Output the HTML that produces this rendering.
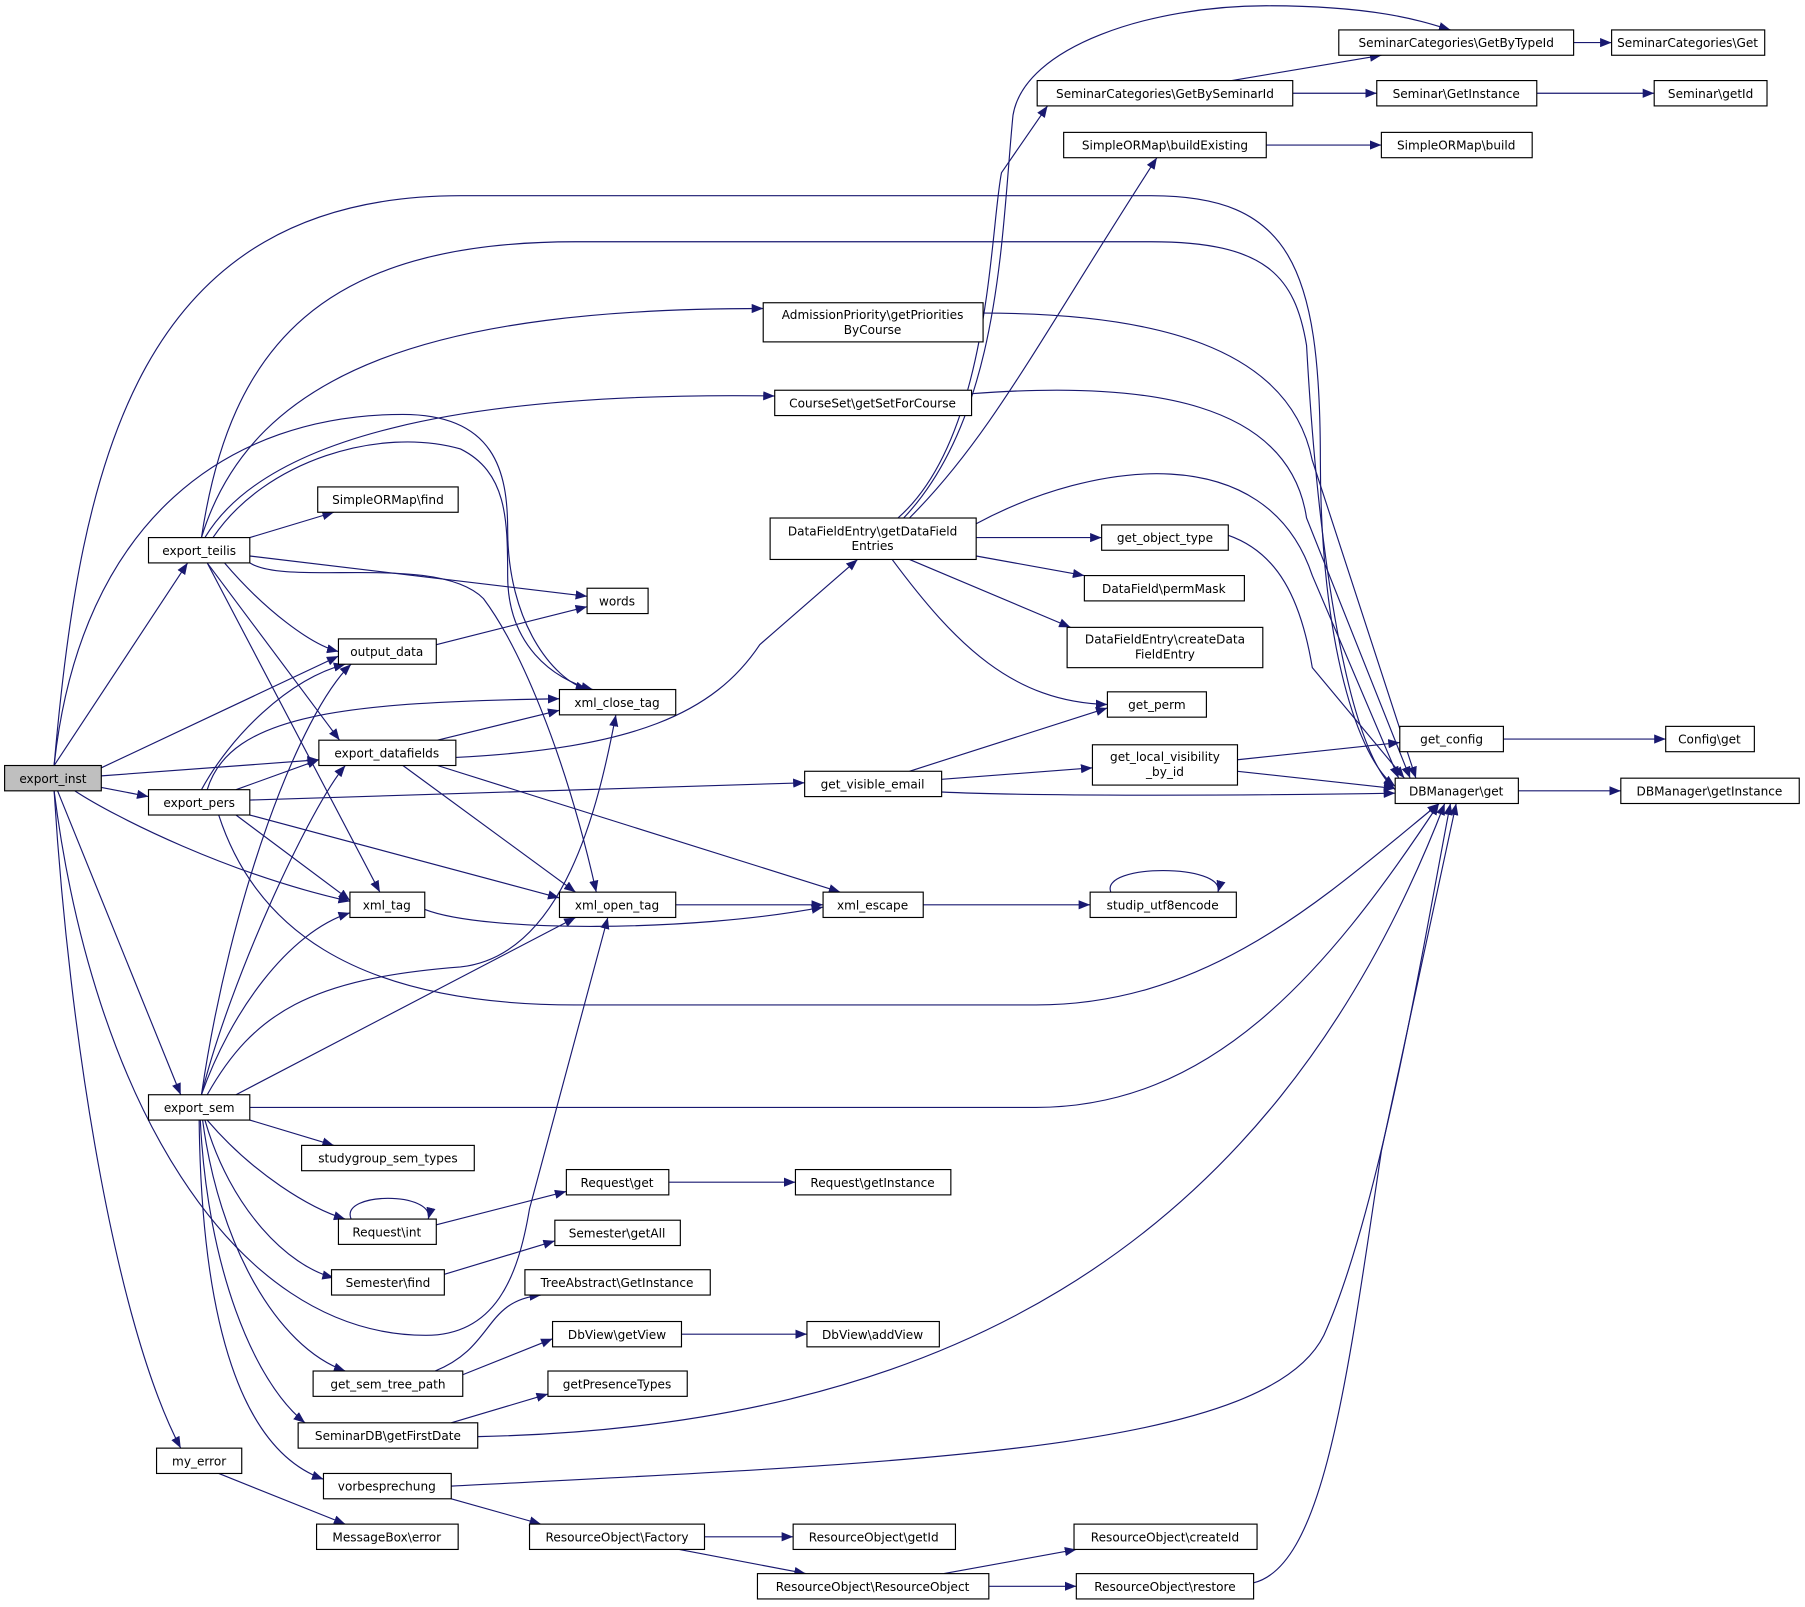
<!DOCTYPE html>
<html><head><meta charset="utf-8"><style>html,body{margin:0;padding:0;background:#fff}svg{display:block}</style></head>
<body>
<svg xmlns="http://www.w3.org/2000/svg" width="1805" height="1607" viewBox="0 0 1568 1396" preserveAspectRatio="none" font-family="DejaVu Sans, Liberation Sans, sans-serif" font-size="10.5">
<defs><marker id="a" markerUnits="userSpaceOnUse" markerWidth="11" markerHeight="8" refX="10" refY="4" orient="auto"><path d="M0,0 L10,4 L0,8 z" fill="#191970"/></marker></defs>
<g fill="none" stroke="#191970" stroke-width="1" marker-end="url(#a)">
<path d="M47,665 L163,489"/>
<path d="M88,667 L294,570"/>
<path d="M88,674 L277,660"/>
<path d="M88,684 L129,692"/>
<path d="M65,687 C100,710 200,760 304,783"/>
<path d="M50,687 L157,951"/>
<path d="M47,687 C60,900 100,1150 157,1258"/>
<path d="M47,665 C70,400 120,170 400,170 L1000,170 C1120,170 1147,230 1147,400 C1147,560 1180,660 1212,683"/>
<path d="M47,665 C70,450 200,360 350,360 C430,360 441,410 441,460 C441,540 480,590 510,599"/>
<path d="M47,687 C80,950 200,1160 370,1160 C430,1160 450,1110 460,1050 L528,797"/>
<path d="M175,467 C200,300 280,210 500,210 L1000,210 C1100,210 1125,240 1135,300 C1145,480 1170,650 1212,686"/>
<path d="M175,467 C220,320 380,268 663,268"/>
<path d="M178,467 C230,380 400,340 673,344"/>
<path d="M185,467 C230,400 330,370 400,390 C440,410 441,450 441,500 C441,560 480,590 515,599"/>
<path d="M217,467 L290,445"/>
<path d="M217,483 L510,518"/>
<path d="M195,489 C230,530 270,560 294,566"/>
<path d="M180,489 L295,643"/>
<path d="M180,489 L330,775"/>
<path d="M217,489 C250,510 380,480 420,520 C450,560 490,650 518,775"/>
<path d="M175,686 C200,640 250,590 300,577"/>
<path d="M180,686 C200,620 300,610 486,607"/>
<path d="M205,686 L277,660"/>
<path d="M217,695 L699,680"/>
<path d="M217,708 L486,780"/>
<path d="M205,708 L304,782"/>
<path d="M190,708 C220,800 300,873 500,873 L900,873 C1050,873 1150,780 1250,698"/>
<path d="M175,951 C200,780 260,620 305,577"/>
<path d="M175,951 C200,850 270,700 300,665"/>
<path d="M175,951 C200,880 250,810 304,793"/>
<path d="M180,951 C220,880 270,850 400,840 C490,830 520,700 535,621"/>
<path d="M205,951 L500,797"/>
<path d="M217,962 L900,962 C1050,962 1150,850 1250,698"/>
<path d="M217,973 L290,995"/>
<path d="M180,973 C220,1020 270,1050 300,1059"/>
<path d="M178,973 C200,1050 250,1100 290,1110"/>
<path d="M176,973 C190,1080 240,1170 300,1191"/>
<path d="M174,973 C180,1100 220,1200 265,1236"/>
<path d="M173,973 C175,1150 210,1260 281,1285"/>
<path d="M190,1280 L300,1324"/>
<path d="M380,643 L486,617"/>
<path d="M396,658 C550,650 620,620 660,560 L745,486"/>
<path d="M350,665 L500,775"/>
<path d="M380,665 L730,775"/>
<path d="M379,560 L510,527"/>
<path d="M369,790 C420,810 600,810 715,788"/>
<path d="M587,786 L715,786"/>
<path d="M802,786 L947,786"/>
<path d="M965,775 C955,750 1065,750 1058,775"/>
<path d="M790,670 L962,615"/>
<path d="M818,677 L949,667"/>
<path d="M818,688 C900,692 1100,691 1212,689"/>
<path d="M305,1059 C295,1035 378,1035 372,1059"/>
<path d="M379,1064 L492,1035"/>
<path d="M581,1027 L691,1027"/>
<path d="M386,1107 L482,1078"/>
<path d="M378,1191 C430,1170 420,1130 470,1125"/>
<path d="M400,1195 L480,1163"/>
<path d="M592,1159 L701,1159"/>
<path d="M392,1236 L476,1211"/>
<path d="M415,1248 C800,1240 1100,1100 1255,698"/>
<path d="M392,1302 L470,1324"/>
<path d="M392,1291 C800,1270 1100,1260 1150,1160 C1200,1050 1240,800 1260,698"/>
<path d="M612,1335 L689,1335"/>
<path d="M590,1346 L700,1367"/>
<path d="M820,1367 L935,1346"/>
<path d="M859,1378 L935,1378"/>
<path d="M1089,1375 C1150,1360 1170,1200 1200,1000 L1265,698"/>
<path d="M785,450 C870,360 870,200 880,100 C890,40 1000,5 1100,5 C1200,5 1240,20 1260,26"/>
<path d="M780,450 C860,380 860,200 870,150 L910,92"/>
<path d="M790,450 C860,380 900,300 1005,137"/>
<path d="M848,455 C950,400 1100,380 1140,500 L1215,676"/>
<path d="M848,467 L957,467"/>
<path d="M848,483 L942,500"/>
<path d="M790,486 L930,545"/>
<path d="M775,486 C830,560 880,610 962,612"/>
<path d="M854,272 C1000,272 1120,300 1140,400 L1230,676"/>
<path d="M844,342 C1000,330 1120,350 1135,450 L1225,676"/>
<path d="M1070,70 L1200,48"/>
<path d="M1123,81 L1196,81"/>
<path d="M1367,37 L1400,37"/>
<path d="M1335,81 L1437,81"/>
<path d="M1100,126 L1200,126"/>
<path d="M1067,465 C1110,480 1130,520 1140,580 L1220,676"/>
<path d="M1075,660 L1216,645"/>
<path d="M1075,670 L1212,685"/>
<path d="M1306,642 L1447,642"/>
<path d="M1319,687 L1408,687"/>
</g>
<g stroke="#000" stroke-width="1" fill="#fff">
<rect x="4" y="665" width="84" height="22" fill="#bfbfbf"/>
<rect x="129" y="467" width="88" height="22"/>
<rect x="129" y="686" width="88" height="22"/>
<rect x="129" y="951" width="88" height="22"/>
<rect x="136" y="1258" width="74" height="22"/>
<rect x="276" y="423" width="122" height="22"/>
<rect x="510" y="511" width="53" height="22"/>
<rect x="294" y="555" width="85" height="22"/>
<rect x="486" y="599" width="101" height="22"/>
<rect x="277" y="643" width="119" height="22"/>
<rect x="304" y="775" width="65" height="22"/>
<rect x="486" y="775" width="101" height="22"/>
<rect x="262" y="995" width="150" height="22"/>
<rect x="294" y="1059" width="85" height="22"/>
<rect x="288" y="1103" width="98" height="22"/>
<rect x="272" y="1191" width="130" height="22"/>
<rect x="259" y="1236" width="156" height="22"/>
<rect x="281" y="1280" width="111" height="22"/>
<rect x="275" y="1324" width="123" height="22"/>
<rect x="663" y="263" width="191" height="34"/>
<rect x="673" y="339" width="171" height="22"/>
<rect x="669" y="450" width="179" height="36"/>
<rect x="699" y="670" width="119" height="22"/>
<rect x="715" y="775" width="87" height="22"/>
<rect x="492" y="1016" width="89" height="22"/>
<rect x="482" y="1060" width="109" height="22"/>
<rect x="456" y="1103" width="161" height="22"/>
<rect x="480" y="1148" width="112" height="22"/>
<rect x="476" y="1191" width="121" height="22"/>
<rect x="460" y="1324" width="152" height="22"/>
<rect x="658" y="1367" width="201" height="22"/>
<rect x="691" y="1016" width="135" height="22"/>
<rect x="701" y="1148" width="115" height="22"/>
<rect x="689" y="1324" width="141" height="22"/>
<rect x="901" y="70" width="222" height="22"/>
<rect x="924" y="115" width="176" height="22"/>
<rect x="957" y="456" width="110" height="22"/>
<rect x="942" y="500" width="139" height="22"/>
<rect x="927" y="545" width="170" height="35"/>
<rect x="962" y="601" width="86" height="22"/>
<rect x="949" y="647" width="126" height="35"/>
<rect x="947" y="775" width="127" height="22"/>
<rect x="933" y="1324" width="159" height="22"/>
<rect x="935" y="1367" width="154" height="22"/>
<rect x="1163" y="26" width="204" height="22"/>
<rect x="1400" y="26" width="133" height="22"/>
<rect x="1196" y="70" width="139" height="22"/>
<rect x="1437" y="70" width="98" height="22"/>
<rect x="1200" y="115" width="131" height="22"/>
<rect x="1216" y="631" width="90" height="22"/>
<rect x="1447" y="631" width="77" height="22"/>
<rect x="1212" y="676" width="107" height="22"/>
<rect x="1408" y="676" width="155" height="22"/>
</g>
<g fill="#000" text-anchor="middle">
<text x="46" y="680">export_inst</text>
<text x="173" y="482">export_teilis</text>
<text x="173" y="701">export_pers</text>
<text x="173" y="966">export_sem</text>
<text x="173" y="1273">my_error</text>
<text x="337" y="438">SimpleORMap\find</text>
<text x="536" y="526">words</text>
<text x="336" y="570">output_data</text>
<text x="536" y="614">xml_close_tag</text>
<text x="336" y="658">export_datafields</text>
<text x="336" y="790">xml_tag</text>
<text x="536" y="790">xml_open_tag</text>
<text x="337" y="1010">studygroup_sem_types</text>
<text x="336" y="1074">Request\int</text>
<text x="337" y="1118">Semester\find</text>
<text x="337" y="1206">get_sem_tree_path</text>
<text x="337" y="1251">SeminarDB\getFirstDate</text>
<text x="336" y="1295">vorbesprechung</text>
<text x="336" y="1339">MessageBox\error</text>
<text x="758" y="277">AdmissionPriority\getPriorities</text>
<text x="758" y="290">ByCourse</text>
<text x="758" y="354">CourseSet\getSetForCourse</text>
<text x="758" y="465">DataFieldEntry\getDataField</text>
<text x="758" y="478">Entries</text>
<text x="758" y="685">get_visible_email</text>
<text x="758" y="790">xml_escape</text>
<text x="536" y="1031">Request\get</text>
<text x="536" y="1075">Semester\getAll</text>
<text x="536" y="1118">TreeAbstract\GetInstance</text>
<text x="536" y="1163">DbView\getView</text>
<text x="536" y="1206">getPresenceTypes</text>
<text x="536" y="1339">ResourceObject\Factory</text>
<text x="758" y="1382">ResourceObject\ResourceObject</text>
<text x="758" y="1031">Request\getInstance</text>
<text x="758" y="1163">DbView\addView</text>
<text x="759" y="1339">ResourceObject\getId</text>
<text x="1012" y="85">SeminarCategories\GetBySeminarId</text>
<text x="1012" y="130">SimpleORMap\buildExisting</text>
<text x="1012" y="471">get_object_type</text>
<text x="1011" y="515">DataField\permMask</text>
<text x="1012" y="559">DataFieldEntry\createData</text>
<text x="1012" y="572">FieldEntry</text>
<text x="1005" y="616">get_perm</text>
<text x="1012" y="661">get_local_visibility</text>
<text x="1012" y="674">_by_id</text>
<text x="1010" y="790">studip_utf8encode</text>
<text x="1012" y="1339">ResourceObject\createId</text>
<text x="1012" y="1382">ResourceObject\restore</text>
<text x="1265" y="41">SeminarCategories\GetByTypeId</text>
<text x="1466" y="41">SeminarCategories\Get</text>
<text x="1265" y="85">Seminar\GetInstance</text>
<text x="1486" y="85">Seminar\getId</text>
<text x="1265" y="130">SimpleORMap\build</text>
<text x="1261" y="646">get_config</text>
<text x="1485" y="646">Config\get</text>
<text x="1265" y="691">DBManager\get</text>
<text x="1485" y="691">DBManager\getInstance</text>
</g>
</svg>
</body></html>
